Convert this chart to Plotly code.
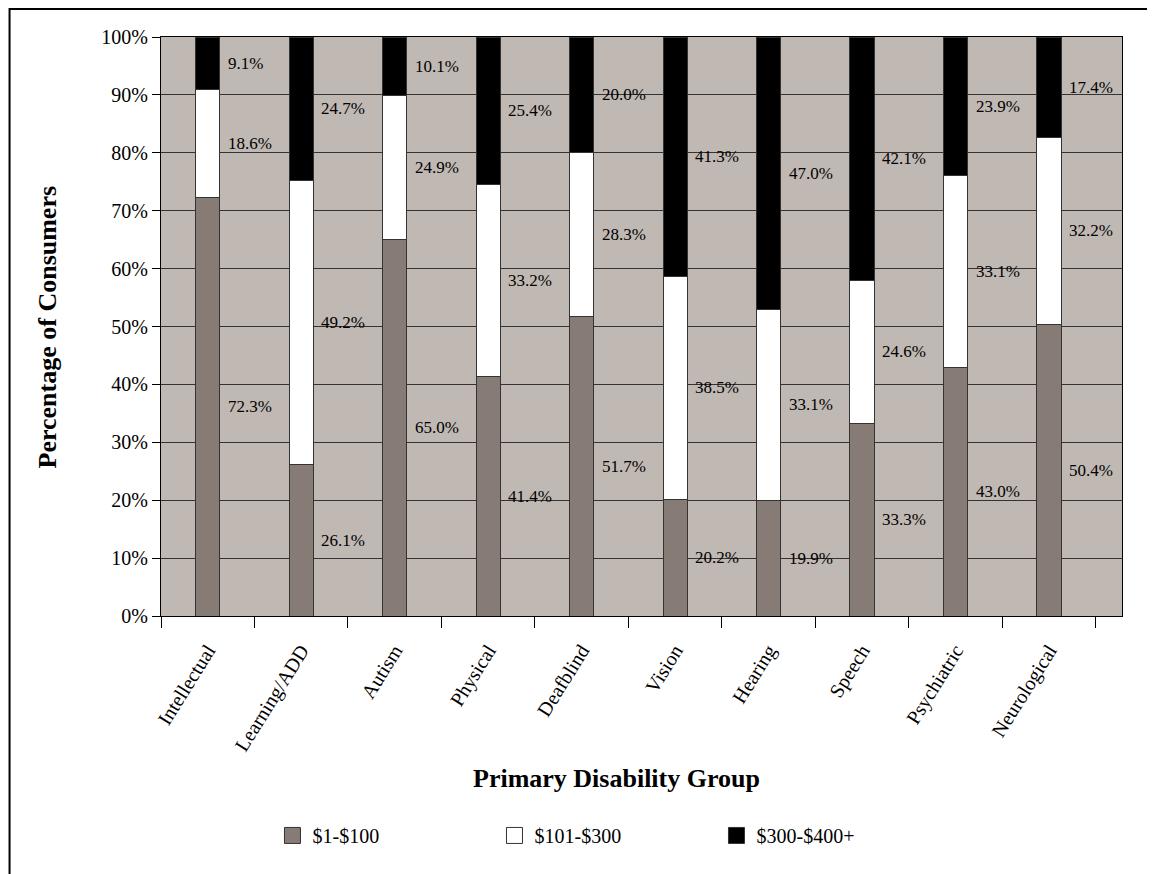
import plotly.graph_objects as go

categories = ["Intellectual", "Learning/ADD", "Autism", "Physical", "Deafblind",
              "Vision", "Hearing", "Speech", "Psychiatric", "Neurological"]
low = [72.3, 26.1, 65.0, 41.4, 51.7, 20.2, 19.9, 33.3, 43.0, 50.4]
mid = [18.6, 49.2, 24.9, 33.2, 28.3, 38.5, 33.1, 24.6, 33.1, 32.2]
high = [9.1, 24.7, 10.1, 25.4, 20.0, 41.3, 47.0, 42.1, 23.9, 17.4]
series_names = ["$1-$100", "$101-$300", "$300-$400+"]
series_colors = ["#867B75", "#FFFFFF", "#000000"]
y_ticks = [0, 10, 20, 30, 40, 50, 60, 70, 80, 90, 100]
y_tick_text = [f"{v}%" for v in y_ticks]

FONT = "Liberation Serif, Times New Roman, serif"

fig = go.Figure()
for name, vals, col in zip(series_names, [low, mid, high], series_colors):
    fig.add_trace(go.Bar(
        x=categories, y=vals, name=name, width=0.26, showlegend=False,
        legendgroup=name,
        marker=dict(color=col, line=dict(color="#333333", width=1)),
        hoverinfo="x+y+name",
    ))
# legend-only entries with larger square swatches
for name, col in zip(series_names, series_colors):
    fig.add_trace(go.Scatter(
        x=[None], y=[None], mode="markers", name=name, legendgroup=name,
        marker=dict(symbol="square", size=16, color=col,
                    line=dict(color="#333333", width=1)),
        showlegend=True,
    ))

# data labels to the right of each bar, centred on their segment
annotations = []
for i, cat in enumerate(categories):
    base = 0.0
    for vals in (low, mid, high):
        v = vals[i]
        annotations.append(dict(
            x=cat, y=base + v / 2, xref="x", yref="y",
            text=f"{v:.1f}%", showarrow=False, xanchor="left", yanchor="middle",
            xshift=18, font=dict(family=FONT, size=17, color="black"),
        ))
        base += v

annotations.append(dict(
    text="<b>Percentage of Consumers</b>", xref="paper", yref="paper",
    x=-0.1176, y=0.5, xanchor="center", yanchor="middle", textangle=-90,
    showarrow=False, font=dict(family=FONT, size=26, color="black"),
))
annotations.append(dict(
    text="<b>Primary Disability Group</b>", xref="paper", yref="paper",
    x=0.474, y=-0.2815, xanchor="center", yanchor="middle",
    showarrow=False, font=dict(family=FONT, size=26, color="black"),
))

fig.update_layout(
    width=1155, height=874,
    margin=dict(l=153, r=41, t=29, b=266),
    barmode="stack",
    paper_bgcolor="white",
    plot_bgcolor="#C0B8B3",
    font=dict(family=FONT, size=20, color="black"),
    showlegend=True,
    legend=dict(
        orientation="h", x=0.116, y=-0.379, xanchor="left", yanchor="middle",
        entrywidth=177, entrywidthmode="pixels", itemsizing="trace",
        font=dict(family=FONT, size=20, color="black"),
        bgcolor="rgba(0,0,0,0)", traceorder="normal",
    ),
    annotations=annotations,
    shapes=[dict(
        type="rect", xref="paper", yref="paper",
        x0=-0.1576, x1=1.0312, y0=-0.48, y1=1.0484,
        line=dict(color="black", width=2), fillcolor="rgba(0,0,0,0)", layer="above",
    )],
)

fig.update_xaxes(
    type="category", range=[-0.5, 9.78], tickson="boundaries",
    ticks="outside", ticklen=11, tickcolor="black", tickwidth=1,
    tickangle=-58, ticklabelstandoff=14,
    tickfont=dict(family=FONT, size=20, color="black"),
    showline=True, linecolor="black", linewidth=1, mirror=True,
    showgrid=False, zeroline=False,
)
fig.update_yaxes(
    range=[0, 100], tickvals=y_ticks, ticktext=y_tick_text,
    ticks="outside", ticklen=8, tickcolor="black", tickwidth=1,
    tickfont=dict(family=FONT, size=20, color="black"),
    showline=True, linecolor="black", linewidth=1, mirror=True,
    showgrid=True, gridcolor="#333333", gridwidth=1, zeroline=False,
)

fig.write_html("out.html")
